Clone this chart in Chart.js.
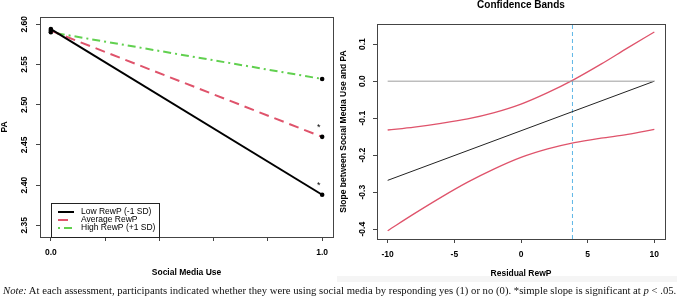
<!DOCTYPE html>
<html><head><meta charset="utf-8">
<script src="https://cdn.jsdelivr.net/npm/chart.js@4/dist/chart.umd.min.js"></script>
<style>
html,body{margin:0;padding:0;background:#fff;width:677px;height:303px;overflow:hidden;}
#band{position:absolute;left:337px;top:276px;width:340px;height:6px;background:#f5f5f5;z-index:0;}
#c1{position:absolute;left:0;top:0;z-index:1;}
#c2{position:absolute;left:340px;top:0;z-index:1;}
#note{position:absolute;left:3px;top:284px;font-family:"Liberation Serif","Times New Roman",serif;font-size:10.7px;line-height:12px;white-space:nowrap;color:#111;z-index:2;}
</style></head>
<body>
<div id="band"></div>
<canvas id="c1" width="340" height="285"></canvas>
<canvas id="c2" width="337" height="285"></canvas>
<div id="note"><i>Note:</i> At each assessment, participants indicated whether they were using social media by responding yes (1) or no (0). *simple slope is significant at <i>p</i> &lt; .05.</div>
<script>
// ---------- Left panel data ----------
const useX = [0, 1];
const seriesNames = ['Low RewP (-1 SD)', 'Average RewP', 'High RewP (+1 SD)'];
const lowY = [2.594, 2.388];
const avgY = [2.592, 2.460];
const highY = [2.590, 2.532];
const sigAtOne = [true, true, false];
const leftYTicks = [2.35, 2.40, 2.45, 2.50, 2.55, 2.60];
const leftYLabels = ['2.35', '2.40', '2.45', '2.50', '2.55', '2.60'];
const leftXTicks = [0, 0.2, 0.4, 0.6, 0.8, 1.0];
const leftXLabels = ['0.0', '', '', '', '', '1.0'];

// ---------- Right panel data ----------
const rewpX = [-10, -8, -6, -4, -2, 0, 2, 4, 6, 8, 10];
const upperCI = [-0.132, -0.124, -0.114, -0.102, -0.085, -0.062, -0.031, 0.005, 0.046, 0.090, 0.133];
const lowerCI = [-0.404, -0.358, -0.314, -0.273, -0.237, -0.206, -0.183, -0.166, -0.154, -0.144, -0.130];
const slopeX = [-10, 10];
const slopeY = [-0.268, 0.0];
const jnPoint = 3.86;
const rightYTicks = [-0.4, -0.3, -0.2, -0.1, 0.0, 0.1];
const rightYLabels = ['-0.4', '-0.3', '-0.2', '-0.1', '0.0', '0.1'];
const rightXTicks = [-10, -5, 0, 5, 10];
const rightXLabels = ['-10', '-5', '0', '5', '10'];

const SANS = '"Liberation Sans", Arial, Helvetica, sans-serif';
const pts = (xs, ys) => xs.map((x, i) => ({x: x, y: ys[i]}));

function framePlugin(cfg) {
  return {
    id: 'frame',
    afterDraw(chart) {
      const ctx = chart.ctx, a = chart.chartArea;
      ctx.save();
      // box
      ctx.strokeStyle = '#444'; ctx.lineWidth = 1;
      ctx.strokeRect(Math.round(a.left) + 0.5, Math.round(a.top) + 0.5, Math.round(a.right - a.left), Math.round(a.bottom - a.top));
      // y tick labels (rotated like R)
      ctx.fillStyle = '#000';
      ctx.font = 'bold 8.5px ' + SANS;
      ctx.textAlign = 'center'; ctx.textBaseline = 'middle';
      cfg.yTicks.forEach((v, i) => {
        const y = chart.scales.y.getPixelForValue(v);
        ctx.save(); ctx.translate(cfg.yLabelX, y); ctx.rotate(-Math.PI / 2);
        ctx.fillText(cfg.yLabels[i], 0, 0); ctx.restore();
      });
      // y title
      ctx.save(); ctx.translate(cfg.yTitleX, (a.top + a.bottom) / 2); ctx.rotate(-Math.PI / 2);
      ctx.fillText(cfg.yTitle, 0, 0); ctx.restore();
      // x title
      ctx.fillText(cfg.xTitle, (a.left + a.right) / 2, cfg.xTitleY);
      // main title
      if (cfg.title) {
        ctx.font = 'bold 10px ' + SANS; ctx.textBaseline = 'alphabetic';
        ctx.fillText(cfg.title, (a.left + a.right) / 2, 7.5);
      }
      if (cfg.extra) cfg.extra(chart, ctx);
      ctx.restore();
    }
  };
}

function scaleX(min, max, ticks, labels, h) {
  return {
    type: 'linear', min: min, max: max,
    afterBuildTicks: s => { s.ticks = ticks.map(v => ({value: v})); },
    afterFit: s => { s.height = h; },
    grid: {drawOnChartArea: false, drawTicks: true, tickLength: 4, color: '#444', lineWidth: 1},
    border: {display: false},
    ticks: {callback: (v, i) => labels[i], font: {family: SANS, size: 8.5, weight: 'bold'}, color: '#000', padding: 7, maxRotation: 0, autoSkip: false}
  };
}
function scaleY(min, max, ticks, w) {
  return {
    type: 'linear', min: min, max: max,
    afterBuildTicks: s => { s.ticks = ticks.map(v => ({value: v})); },
    afterFit: s => { s.width = w; },
    grid: {drawOnChartArea: false, drawTicks: true, tickLength: 4, color: '#444', lineWidth: 1},
    border: {display: false},
    ticks: {display: false}
  };
}

// ---------- Left chart ----------
const leftColors = ['#000000', '#DF536B', '#61D04F'];
const leftDash = [[], [10, 6], [2, 4, 8, 4]];
const leftData = [lowY, avgY, highY];
new Chart(document.getElementById('c1'), {
  type: 'line',
  data: {datasets: leftData.map((ys, k) => ({
    label: seriesNames[k], data: pts(useX, ys),
    borderColor: leftColors[k], borderWidth: 2, borderDash: leftDash[k],
    pointRadius: 2.3, pointBackgroundColor: '#000', pointBorderColor: '#000', pointBorderWidth: 0,
    tension: 0, fill: false
  }))},
  options: {
    animation: false, responsive: false, devicePixelRatio: 1,
    layout: {padding: {left: 0, right: 7, top: 17, bottom: 0}},
    plugins: {legend: {display: false}, tooltip: {enabled: false}},
    scales: {x: scaleX(-0.04, 1.04, leftXTicks, leftXLabels, 48), y: scaleY(2.3355, 2.609, leftYTicks, 40)}
  },
  plugins: [framePlugin({
    yTicks: leftYTicks, yLabels: leftYLabels, yLabelX: 25, yTitle: 'PA', yTitleX: 5,
    xTitle: 'Social Media Use', xTitleY: 273,
    extra: (chart, ctx) => {
      // significance stars
      ctx.font = '9px ' + SANS; ctx.textAlign = 'center'; ctx.textBaseline = 'middle'; ctx.fillStyle = '#000';
      leftData.forEach((ys, k) => {
        if (!sigAtOne[k]) return;
        const px = chart.scales.x.getPixelForValue(useX[1]);
        const py = chart.scales.y.getPixelForValue(ys[1]);
        ctx.fillText('*', px - 3.5, py - 9);
      });
      // legend
      const a = chart.chartArea;
      const lx = 51, ly = 203, lw = 108, lh = Math.round(a.bottom) - ly;
      ctx.fillStyle = '#fff'; ctx.fillRect(lx, ly, lw, lh);
      ctx.strokeStyle = '#222'; ctx.lineWidth = 1; ctx.strokeRect(lx + 0.5, ly + 0.5, lw, lh);
      ctx.font = '8.5px ' + SANS; ctx.textAlign = 'left';
      chart.data.datasets.forEach((ds, k) => {
        const y = 212 + k * 8;
        ctx.strokeStyle = ds.borderColor; ctx.lineWidth = 2; ctx.setLineDash(ds.borderDash);
        ctx.beginPath(); ctx.moveTo(58, y); ctx.lineTo(74, y); ctx.stroke();
        ctx.setLineDash([]);
        ctx.fillStyle = '#000'; ctx.fillText(ds.label, 81, y);
      });
    }
  })]
});

// ---------- Right chart ----------
const rYMin = -0.4265, rYMax = 0.1545;
new Chart(document.getElementById('c2'), {
  type: 'line',
  data: {datasets: [
    {data: pts([-10, 10], [0, 0]), borderColor: '#9E9E9E', borderWidth: 1, pointRadius: 0},
    {data: pts(slopeX, slopeY), borderColor: '#222', borderWidth: 1, pointRadius: 0},
    {data: pts(rewpX, upperCI), borderColor: '#DF536B', borderWidth: 1.3, pointRadius: 0, cubicInterpolationMode: 'monotone'},
    {data: pts(rewpX, lowerCI), borderColor: '#DF536B', borderWidth: 1.3, pointRadius: 0, cubicInterpolationMode: 'monotone'},
    {data: pts([jnPoint, jnPoint], [rYMin, rYMax]), borderColor: '#5DB6E6', borderWidth: 1, borderDash: [4, 3], pointRadius: 0}
  ]},
  options: {
    animation: false, responsive: false, devicePixelRatio: 1,
    layout: {padding: {left: 0, right: 12, top: 24, bottom: 0}},
    plugins: {legend: {display: false}, tooltip: {enabled: false}},
    scales: {x: scaleX(-10.8, 10.8, rightXTicks, rightXLabels, 46), y: scaleY(rYMin, rYMax, rightYTicks, 37)}
  },
  plugins: [framePlugin({
    yTicks: rightYTicks, yLabels: rightYLabels, yLabelX: 23, yTitle: 'Slope between Social Media Use and PA', yTitleX: 4,
    xTitle: 'Residual RewP', xTitleY: 273.5, title: 'Confidence Bands'
  })]
});
</script>
</body></html>
